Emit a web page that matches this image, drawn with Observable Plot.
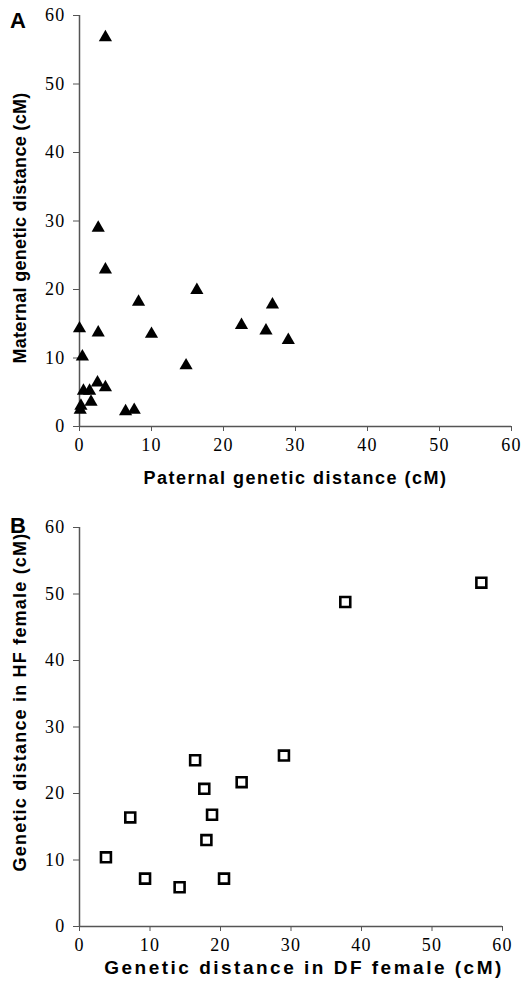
<!DOCTYPE html>
<html>
<head>
<meta charset="utf-8">
<script src="https://cdn.jsdelivr.net/npm/d3@7"></script>
<script src="https://cdn.jsdelivr.net/npm/@observablehq/plot@0.6"></script>
<style>
  html, body { margin: 0; padding: 0; background: #fff; }
  #wrap { position: relative; width: 524px; height: 986px; overflow: hidden; }
  .panel { position: absolute; left: 0; }
  .letter { position: absolute; font-family: "Liberation Sans", Arial, sans-serif; font-weight: bold; font-size: 22px; line-height: 24px; }
  .panel svg g[aria-label$="tick label"] text {
    font-family: "Liberation Serif", "DejaVu Serif", serif !important;
    font-size: 18px !important;
    letter-spacing: 1.2px;
    fill: #000;
  }
  .panel svg .axlabel text { font-family: "Liberation Sans", Arial, sans-serif !important; font-weight: bold; }
</style>
</head>
<body>
<div id="wrap">
  <div class="panel" id="pa" style="top:0"></div>
  <div class="panel" id="pb" style="top:500px"></div>
  <div class="letter" style="left:10px; top:9px">A</div>
  <div class="letter" style="left:10px; top:514px">B</div>
</div>
<script>
// Panel A: paternal vs maternal genetic distance (cM)
const paternalA = [3.6, 2.6, 3.6, 16.3, 8.2, 0.0, 2.6, 10.0, 22.5, 0.4, 14.8, 2.5, 0.55, 1.4, 3.6, 1.6, 0.2, 0.1, 6.4, 7.6, 26.8, 25.9, 29.0];
const maternalA = [56.8, 29.0, 22.9, 19.9, 18.2, 14.3, 13.7, 13.5, 14.8, 10.2, 8.9, 6.4, 5.2, 5.2, 5.7, 3.6, 3.0, 2.4, 2.2, 2.4, 17.8, 14.0, 12.6];

// Panel B: DF female vs HF female genetic distance (cM)
const dfFemale = [57.0, 37.7, 29.0, 16.4, 23.0, 17.7, 18.8, 7.2, 18.0, 3.75, 9.3, 20.5, 14.2];
const hfFemale = [51.7, 48.8, 25.7, 25.0, 21.7, 20.7, 16.8, 16.4, 13.0, 10.4, 7.2, 7.2, 5.9];

const ticks = [0, 10, 20, 30, 40, 50, 60];
const labelA = {x: "Paternal genetic distance (cM)", y: "Maternal genetic distance (cM)"};
const labelB = {x: "Genetic distance in DF female (cM)", y: "Genetic distance in HF female (cM)"};

const dataA = paternalA.map((x, i) => ({x, y: maternalA[i]}));
const dataB = dfFemale.map((x, i) => ({x, y: hfFemale[i]}));

const serif = "Liberation Serif";
const sans = "Liberation Sans";
const axisColor = "#555";

function axes() {
  return [
    Plot.axisX({ticks, tickSize: 5, tickPadding: 7, stroke: axisColor, fontSize: 18, fontFamily: serif, label: null}),
    Plot.axisY({ticks, tickSize: 6, tickPadding: 8, stroke: axisColor, fontSize: 18, fontFamily: serif, label: null}),
    Plot.ruleY([0], {stroke: axisColor, strokeWidth: 1.5}),
    Plot.ruleX([0], {stroke: axisColor, strokeWidth: 1.5})
  ];
}

const plotA = Plot.plot({
  width: 524, height: 500,
  marginLeft: 79, marginRight: 13, marginTop: 15, marginBottom: 74,
  style: {fontFamily: serif, fontSize: "18px", color: "#000", background: "white", overflow: "visible"},
  x: {domain: [0, 60], axis: null},
  y: {domain: [0, 60], axis: null},
  marks: [
    ...axes(),
    Plot.dot(dataA, {x: "x", y: "y", symbol: "triangle", r: 4.9, fill: "black", stroke: "none"}),
    Plot.text([labelA.x], {frameAnchor: "bottom", textAnchor: "middle", lineAnchor: "middle", dy: 52, fontFamily: sans, fontWeight: "bold", fontSize: 18, fill: "black", className: "axlabel xlab"}),
    Plot.text([labelA.y], {frameAnchor: "left", textAnchor: "middle", lineAnchor: "middle", rotate: -90, dx: -59, dy: 7, fontFamily: sans, fontWeight: "bold", fontSize: 18, fill: "black", className: "axlabel ylab"})
  ]
});
document.getElementById("pa").appendChild(plotA);

const plotB = Plot.plot({
  width: 524, height: 486,
  marginLeft: 79, marginRight: 22, marginTop: 27, marginBottom: 60,
  style: {fontFamily: serif, fontSize: "18px", color: "#000", background: "white", overflow: "visible"},
  x: {domain: [0, 60], axis: null},
  y: {domain: [0, 60], axis: null},
  marks: [
    ...axes(),
    Plot.dot(dataB, {x: "x", y: "y", symbol: "square", r: 5.6, fill: "white", stroke: "black", strokeWidth: 2.6}),
    Plot.text([labelB.x], {frameAnchor: "bottom", textAnchor: "middle", lineAnchor: "middle", dx: 13, dy: 41, fontFamily: sans, fontWeight: "bold", fontSize: 19, fill: "black", className: "axlabel xlabB"}),
    Plot.text([labelB.y], {frameAnchor: "left", textAnchor: "middle", lineAnchor: "middle", rotate: -90, dx: -59, dy: -25, fontFamily: sans, fontWeight: "bold", fontSize: 18, fill: "black", className: "axlabel ylabB"})
  ]
});
document.getElementById("pb").appendChild(plotB);

// letter spacing on axis titles (reference text is set loosely)
const sp = {xlab: 1.5, ylab: 0.3, xlabB: 2.5, ylabB: 1.2};
for (const [cls, v] of Object.entries(sp)) {
  document.querySelectorAll("." + cls + " text").forEach(t => t.setAttribute("letter-spacing", v + "px"));
}
</script>
</body>
</html>
